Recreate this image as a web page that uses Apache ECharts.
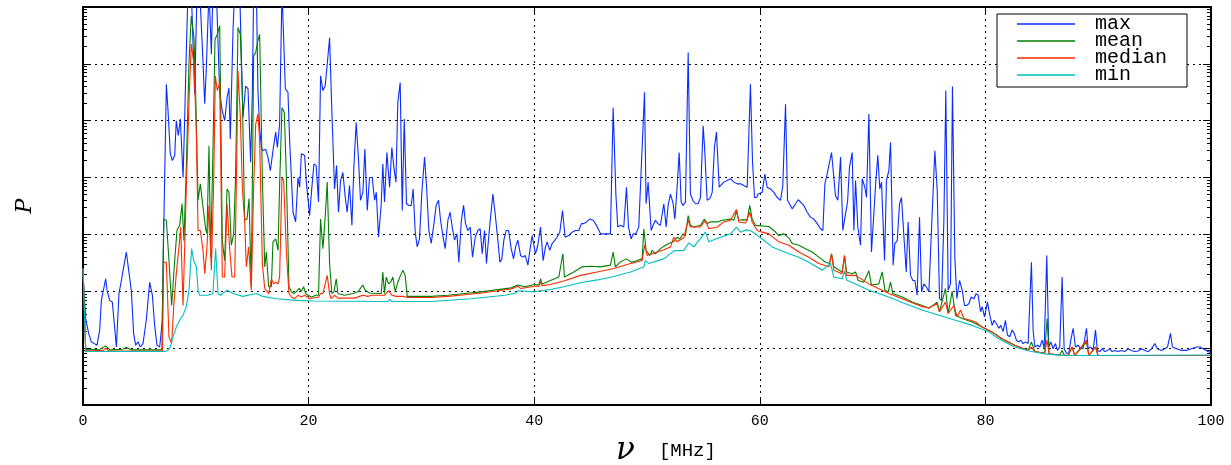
<!DOCTYPE html>
<html>
<head>
<meta charset="utf-8">
<script src="https://cdn.jsdelivr.net/npm/echarts@6/dist/echarts.min.js"></script>
<style>html,body{margin:0;padding:0;background:#fff}#c{width:1231px;height:465px}</style>
</head>
<body>
<div id="c"></div>
<script>
// [frequency MHz, log10(P)]
const maxPts = [[0,2.3],[0.24,1.52],[0.5,1.26],[0.74,1.11],[1.0,1.08],[1.24,1.05],[1.48,1.32],[1.63,1.84],[1.77,1.81],[2.01,2.22],[2.13,2.02],[2.36,1.84],[2.6,1.81],[2.81,1.35],[2.96,1.02],[3.19,1.96],[3.4,2.19],[3.61,2.43],[3.84,2.69],[3.99,2.66],[4.28,2.02],[4.49,1.26],[4.67,1.05],[4.88,1.11],[5.08,1.02],[5.32,1.08],[5.61,1.49],[5.91,2.16],[6.15,1.93],[6.35,1.4],[6.56,1.05],[6.8,1.02],[7.03,1.49],[7.15,3.0],[7.39,5.64],[7.54,5.17],[7.74,4.42],[7.92,4.3],[8.13,4.39],[8.27,5.0],[8.45,4.74],[8.63,5.03],[8.87,4.0],[9.01,5.0],[9.16,6.23],[9.31,7.3],[9.6,7.3],[9.9,5.47],[10.11,7.3],[10.34,7.3],[10.58,6.3],[10.79,5.3],[10.93,5.9],[11.17,7.3],[11.38,6.17],[11.52,7.3],[11.82,7.3],[12.12,5.47],[12.35,5.17],[12.56,5.0],[12.77,5.4],[12.94,5.58],[13.06,4.68],[13.3,6.6],[13.45,7.3],[13.89,7.3],[14.18,5.06],[14.42,5.61],[14.63,5.56],[14.86,4.27],[15.01,5.47],[15.13,7.3],[15.37,7.3],[15.51,5.53],[15.66,4.88],[15.81,4.53],[15.96,4.47],[16.19,4.5],[16.4,4.36],[16.61,4.12],[16.84,4.47],[17.08,4.8],[17.23,4.53],[17.43,4.94],[17.64,7.3],[17.79,7.3],[17.94,5.56],[18.17,5.5],[18.32,4.65],[18.62,3.39],[18.85,3.22],[19.06,4.0],[19.21,3.83],[19.36,4.42],[19.65,4.39],[19.8,3.92],[20.09,3.33],
[20.29,3.83],[20.47,4.24],[20.67,4.21],[20.88,3.57],[21.06,5.79],[21.27,5.53],[21.47,5.61],[21.65,5.99],[21.86,6.46],[22.06,5.18],[22.3,3.8],[22.48,4.21],[22.65,3.39],[22.83,3.94],[23.04,4.09],[23.25,3.65],[23.42,3.39],[23.63,3.86],[23.84,3.16],[24.01,4.18],[24.22,4.97],[24.43,4.3],[24.6,3.6],[24.81,3.74],[24.99,4.5],[25.2,3.42],[25.4,4.0],[25.64,4.0],[25.85,3.6],[26.0,3.74],[26.2,2.95],[26.44,3.54],[26.58,4.24],[26.73,3.57],[26.94,4.44],[27.18,3.83],[27.38,4.53],[27.56,4.18],[27.74,3.92],[27.91,5.32],[28.12,5.67],[28.3,3.42],[28.48,5.03],[28.68,3.54],[28.89,3.51],[29.1,3.51],[29.27,3.8],[29.45,3.04],[29.63,2.78],[29.83,2.92],[30.04,3.74],[30.28,4.36],[30.46,3.83],[30.66,3.07],[30.87,2.84],[31.11,3.19],[31.31,3.51],[31.52,3.6],[31.7,3.25],[31.9,2.98],[32.11,2.75],[32.35,3.25],[32.55,3.39],[32.73,3.13],[32.94,2.9],[33.15,3.01],[33.32,2.51],[33.53,3.22],[33.74,3.51],[33.91,3.19],[34.12,3.07],[34.33,3.13],[34.53,2.6],[34.77,2.95],[35.01,3.07],[35.21,3.1],[35.39,2.66],[35.6,3.07],[35.77,2.49],[35.95,2.92],[36.13,3.3],[36.34,3.71],[36.54,3.36],[36.78,2.9],[36.96,2.51],[37.13,2.57],[37.31,2.9],[37.52,3.07],[37.73,3.07],[37.96,2.75],[38.17,2.57],[38.35,2.78],[38.55,2.9],[38.79,2.63],[38.99,2.6],[39.2,2.63],[39.44,2.46],[39.64,2.75],[39.82,2.98],
[40.11,2.66],[40.32,2.81],[40.56,3.13],[40.79,2.54],[41.0,2.78],[41.15,2.87],[41.38,2.72],[41.59,2.84],[41.8,2.89],[42.03,2.95],[42.27,3.04],[42.51,3.42],[42.74,2.95],[43.07,2.98],[43.36,3.04],[43.66,3.07],[43.95,3.07],[44.19,3.19],[44.4,3.19],[44.63,3.22],[44.93,3.27],[45.23,3.25],[45.52,3.16],[45.88,3.01],[46.32,3.01],[46.76,3.01],[47.0,5.23],[47.24,3.71],[47.41,3.13],[47.65,3.16],[47.94,3.13],[48.18,3.83],[48.36,3.13],[48.59,2.92],[48.77,3.01],[49.01,3.01],[49.27,3.13],[49.48,4.12],[49.78,5.5],[49.92,3.54],[50.1,3.92],[50.37,3.07],[50.54,3.16],[50.75,3.25],[50.96,3.19],[51.19,3.16],[51.34,3.13],[51.49,3.54],[51.7,3.13],[51.87,3.51],[52.08,3.71],[52.32,3.54],[52.47,3.27],[52.67,3.83],[52.85,4.44],[53.03,3.57],[53.2,3.51],[53.41,3.57],[53.65,6.2],[53.85,3.71],[54.06,3.6],[54.3,3.54],[54.53,3.54],[54.74,3.65],[54.98,4.91],[55.12,4.47],[55.33,3.6],[55.57,3.63],[55.78,3.74],[55.98,4.53],[56.16,4.8],[56.4,3.83],[56.57,3.86],[56.81,3.92],[57.11,3.95],[57.4,3.98],[57.7,3.92],[57.99,3.89],[58.29,3.89],[58.58,3.86],[58.88,3.83],[58.97,3.8],[59.17,5.64],[59.35,4.3],[59.53,3.65],[59.71,3.65],
[59.86,3.71],[60.21,3.74],[60.45,4.06],[60.65,3.83],[60.95,3.8],[61.25,3.74],[61.54,3.65],[61.84,3.6],[62.04,3.86],[62.28,5.29],[62.46,3.6],[62.63,3.57],[62.87,3.45],[63.17,3.54],[63.4,3.61],[63.61,3.57],[63.9,3.51],[64.2,3.39],[64.5,3.3],[64.79,3.27],[65.09,3.19],[65.38,3.1],[65.59,3.07],[65.77,3.89],[65.97,4.06],[66.18,4.27],[66.36,4.44],[66.56,4.01],[66.71,3.68],[66.92,3.6],[67.16,4.36],[67.36,3.07],[67.6,3.36],[67.78,3.57],[67.95,4.18],[68.19,4.44],[68.34,3.07],[68.49,3.95],[68.69,3.13],[68.93,2.81],[69.08,3.98],[69.31,3.83],[69.46,3.65],[69.67,5.12],[69.9,2.69],[70.11,3.36],[70.26,3.86],[70.46,4.39],[70.64,3.8],[70.79,3.92],[71.06,2.54],[71.23,3.95],[71.44,4.12],[71.59,4.62],[71.82,2.46],[71.97,2.84],[72.18,2.89],[72.39,3.54],[72.56,3.65],[72.8,2.89],[72.98,2.34],[73.15,3.22],[73.36,2.28],[73.57,2.19],[73.75,2.19],[73.95,1.93],[74.16,3.3],[74.34,1.99],[74.54,2.13],[74.75,2.08],[74.99,1.99],[75.28,3.36],[75.52,4.47],[75.73,3.77],[75.93,1.87],[76.11,1.84],[76.32,3.25],[76.49,5.53],[76.7,2.02],[76.91,2.13],[77.08,5.6],[77.29,2.6],[77.47,1.87],[77.71,2.19],[77.94,2.02],[78.15,1.75],[78.33,1.75],[78.53,1.78],[78.74,1.9],[78.98,1.87],[79.18,1.96],[79.36,1.93],[79.57,1.64],[79.71,1.73],[79.92,1.55],
[80.18,1.81],[80.39,1.58],[80.6,1.4],[80.77,1.49],[80.98,1.43],[81.19,1.35],[81.36,1.4],[81.57,1.29],[81.78,1.49],[81.95,1.23],[82.16,1.2],[82.37,1.32],[82.55,1.26],[82.75,1.14],[82.96,1.11],[83.14,1.14],[83.34,1.08],[83.55,1.11],[83.79,1.08],[84.08,2.51],[84.23,1.32],[84.38,1.02],[84.61,1.05],[84.82,1.02],[85.03,1.14],[85.21,0.99],[85.44,2.63],[85.62,1.02],[85.8,1.11],[86.0,0.99],[86.21,1.08],[86.39,0.96],[86.59,1.02],[86.8,2.25],[86.98,0.99],[87.19,0.91],[87.39,0.91],[87.57,1.14],[87.78,1.35],[87.98,1.02],[88.22,1.05],[88.46,0.99],[88.66,0.99],[88.81,1.02],[88.96,1.35],[89.11,0.99],[89.34,1.02],[89.55,0.96],[89.76,1.32],[89.93,0.96],[90.14,0.94],[90.35,0.99],[90.58,0.94],[90.82,0.96],[91.03,0.99],[91.23,0.94],[91.47,0.96],[91.77,0.94],[92.06,0.96],[92.36,0.94],[92.65,0.99],[92.95,0.96],[93.24,0.94],[93.54,0.95],[93.83,0.99],[94.13,0.96],[94.43,0.94],[94.72,0.99],[95.02,1.08],[95.25,0.99],[95.61,0.96],[95.9,0.99],[96.14,1.02],[96.41,1.26],[96.58,1.02],[96.94,0.99],[97.38,0.96],[97.82,0.96],[98.27,0.99],[98.71,1.02],[99.01,1.02],[99.3,0.99],[99.74,0.94],[100,0.92]];

const meanPts = [[0,2.4],[0.24,0.97],[1.5,0.98],[2.0,1.04],[2.4,0.97],[3.5,0.98],[3.84,1.01],[4.3,0.97],[7.0,0.97],[7.15,3.27],[7.39,3.25],[7.62,2.54],[7.86,1.75],[8.13,2.54],[8.33,3.07],[8.57,3.16],[8.78,3.54],[8.95,2.89],[9.16,4.18],[9.4,6.05],[9.6,6.84],[9.84,6.46],[9.99,5.47],[10.2,3.6],[10.4,3.89],[10.64,3.48],[10.87,3.1],[10.99,3.01],[11.17,4.56],[11.32,2.6],[11.52,4.47],[11.7,6.43],[11.91,6.52],[12.12,6.67],[12.35,2.89],[12.56,2.54],[12.77,3.8],[12.94,3.74],[13.15,2.81],[13.36,3.01],[13.53,4.06],[13.74,6.64],[13.95,6.52],[14.13,5.41],[14.33,3.25],[14.54,3.27],[14.72,3.63],[14.92,2.08],[15.13,6.14],[15.31,6.2],[15.46,6.37],[15.66,6.52],[15.9,4.0],[16.11,2.43],[16.25,2.69],[16.46,2.08],[16.7,2.08],[16.84,2.87],[17.08,2.92],[17.29,2.72],[17.43,3.86],[17.64,5.23],[17.85,5.15],[18.03,4.0],[18.26,2.08],[18.47,1.99],[18.68,1.96],[18.91,1.99],[19.15,2.05],[19.36,2.0],[19.56,2.08],[19.74,1.96],[19.95,1.93],[20.23,1.9],[20.67,1.93],[20.88,1.93],[21.06,3.27],[21.27,2.75],[21.47,3.3],[21.65,3.92],[21.86,2.49],[22.06,1.96],[22.24,1.99],[22.45,2.22],[22.6,1.96],[23.19,1.93],[23.93,1.96],[24.37,1.99],[24.81,2.11],[25.02,2.02],[25.4,1.97],[26.14,1.96],[26.44,1.96],[26.58,2.34],[26.73,1.96],[26.88,2.25],[27.09,2.13],[27.27,2.16],[27.47,2.25],[27.68,1.99],[27.91,2.16],[28.15,2.28],[28.36,2.37],[28.56,2.28],[28.74,1.91],[30.87,1.91],[32.35,1.93],[33.82,1.96],[35.3,1.99],[36.78,2.03],[37.96,2.06],[38.55,2.11],[38.7,2.09],[39.14,2.08],[40.03,2.12],[40.41,2.11],[40.56,2.22],[40.7,2.13],[41.44,2.19],[42.18,2.25],[42.54,2.66],[42.68,2.25],[43.51,2.34],[44.25,2.43],[44.99,2.44],[45.88,2.43],[46.76,2.46],[47.0,2.69],[47.2,2.43],[47.59,2.51],[48.18,2.57],[48.63,2.51],[49.13,2.54],[49.57,2.57],[49.72,3.1],[49.92,2.72],[50.25,2.63],[50.46,2.72],[50.75,2.66],[51.19,2.75],[51.64,2.81],[51.93,2.84],[52.32,2.87],[52.67,2.95],[52.91,2.92],[53.2,3.01],[53.41,2.98],[53.65,3.33],[53.85,3.16],[54.15,3.13],[54.74,3.16],[55.09,3.27],[55.27,3.19],[55.63,3.22],[56.22,3.22],[56.66,3.25],[57.11,3.26],[57.4,3.27],[57.7,3.25],[57.93,3.41],[58.14,3.25],[58.58,3.26],[58.88,3.25],[59.11,3.51],[59.32,3.27],[59.62,3.16],[60.8,3.14],[61.25,3.07],[61.69,2.98],[62.13,3.01],[62.58,2.94],[62.87,2.84],[63.46,2.81],[64.05,2.75],[64.64,2.69],[65.23,2.6],[65.83,2.51],[66.18,2.49],[66.36,2.66],[66.56,2.43],[67.3,2.34],[67.51,2.63],[67.69,2.34],[68.19,2.31],[68.49,2.34],[68.72,2.19],[69.22,2.16],[69.67,2.36],[69.9,2.11],[70.55,2.13],[70.85,2.34],[71.09,2.02],[71.38,1.99],[71.59,2.16],[71.79,1.96],[72.62,1.9],[73.51,1.81],[74.4,1.75],[74.99,1.7],[75.72,1.81],[75.93,1.64],[76.46,2.05],[76.7,1.61],[77.05,2.0],[77.35,1.58],[77.94,1.52],[78.83,1.46],[79.71,1.37],[80.54,1.29],[81.42,1.17],[82.6,1.05],[83.79,0.96],[84.08,1.11],[84.38,0.94],[85.26,0.91],[85.47,1.52],[85.65,0.9],[86.59,0.88],[86.8,0.96],[87.0,0.88],[87.33,0.87],[87.69,1.02],[87.92,0.87],[88.96,1.11],[89.17,0.87],[89.76,1.02],[89.99,0.87],[100,0.87]];

const medianPts = [[0,2.4],[0.24,0.95],[1.8,0.96],[2.0,1.0],[2.3,0.95],[7.05,0.95],[7.15,2.51],[7.39,2.51],[7.62,1.2],[7.86,1.08],[8.04,1.73],[8.27,2.31],[8.51,2.78],[8.66,3.13],[8.87,1.75],[9.16,3.83],[9.4,5.35],[9.6,6.35],[9.84,5.99],[10.05,4.77],[10.2,3.07],[10.4,3.07],[10.64,2.72],[10.79,2.31],[10.99,2.78],[11.17,3.51],[11.38,2.37],[11.58,3.86],[11.73,5.79],[11.91,5.53],[12.12,5.67],[12.35,2.25],[12.56,2.25],[12.77,3.54],[13.0,2.75],[13.21,2.25],[13.45,2.25],[13.59,3.83],[13.74,5.88],[13.95,5.06],[14.13,3.8],[14.33,3.25],[14.48,2.43],[14.69,2.78],[14.92,2.02],[15.13,3.83],[15.31,4.94],[15.51,5.12],[15.66,4.65],[15.9,2.49],[16.11,2.05],[16.25,2.08],[16.46,1.96],[16.7,2.22],[16.9,2.13],[17.08,2.16],[17.29,2.13],[17.43,2.25],[17.64,4.0],[17.79,3.95],[18.03,2.69],[18.26,1.96],[18.47,1.9],[18.76,1.87],[19.06,1.93],[19.36,1.9],[19.65,1.93],[20.09,1.87],[20.88,1.9],[21.06,1.96],[21.27,1.96],[21.47,2.13],[21.65,2.28],[21.86,1.96],[22.0,1.87],[22.3,1.93],[22.6,1.88],[24.07,1.88],[24.81,1.93],[25.26,1.91],[25.55,1.93],[26.73,1.93],[27.09,2.01],[27.38,1.93],[27.77,1.91],[28.5,1.91],[28.74,1.89],[30.87,1.89],[32.35,1.91],[33.82,1.94],[35.3,1.97],[36.78,2.01],[37.96,2.04],[38.55,2.09],[38.79,2.05],[40.03,2.09],[40.41,2.09],[40.56,2.16],[40.7,2.1],[41.44,2.12],[42.62,2.18],[44.1,2.28],[45.58,2.34],[47.06,2.4],[48.54,2.49],[49.57,2.54],[49.78,2.81],[50.01,2.63],[51.49,2.73],[52.08,2.78],[52.38,2.95],[52.67,2.87],[53.26,2.94],[53.65,3.25],[53.85,3.13],[54.74,3.13],[55.18,3.25],[55.48,3.1],[56.22,3.13],[56.81,3.22],[57.4,3.25],[57.93,3.44],[58.14,3.22],[58.73,3.2],[59.11,3.39],[59.32,3.22],[59.77,3.07],[60.21,3.04],[60.8,3.01],[61.69,2.87],[62.58,2.81],[63.46,2.69],[64.35,2.6],[65.23,2.49],[66.12,2.43],[66.36,2.66],[66.56,2.37],[67.3,2.31],[67.51,2.63],[67.69,2.28],[68.49,2.28],[69.67,2.13],[71.44,1.96],[72.62,1.87],[73.51,1.8],[74.4,1.73],[74.99,1.71],[75.72,1.78],[75.93,1.64],[76.46,1.81],[76.7,1.61],[77.2,1.75],[77.5,1.55],[77.79,1.67],[78.09,1.52],[78.68,1.49],[79.14,1.46],[79.71,1.37],[80.54,1.29],[81.42,1.17],[82.6,1.05],[83.79,0.96],[84.08,1.02],[84.38,0.94],[85.26,0.91],[85.47,1.14],[85.65,0.9],[86.59,0.88],[87.33,0.87],[87.69,1.02],[87.92,0.87],[88.96,1.14],[89.17,0.87],[89.76,1.02],[89.99,0.87],[100,0.87]];

const minPts = [[0,2.4],[0.24,0.94],[7.3,0.94],[7.5,0.96],[7.74,1.02],[7.98,1.2],[8.27,1.37],[8.57,1.49],[8.87,1.58],[9.16,1.73],[9.4,2.02],[9.52,2.43],[9.63,2.75],[9.81,2.54],[10.05,2.43],[10.2,2.02],[10.34,1.93],[11.08,1.93],[11.52,1.96],[11.76,2.75],[11.97,1.96],[12.17,1.93],[12.77,2.02],[13.3,1.96],[14.18,1.91],[15.37,1.96],[15.96,1.91],[17.14,1.87],[18.91,1.84],[20.39,1.83],[27.0,1.82],[27.18,1.86],[27.38,1.82],[30.9,1.82],[34.4,1.87],[37.4,1.93],[38.4,1.97],[38.55,2.01],[38.7,1.98],[40.0,1.99],[40.56,2.01],[41.44,2.03],[42.62,2.08],[44.1,2.15],[45.6,2.2],[47.06,2.26],[48.54,2.34],[49.72,2.43],[49.86,2.54],[50.16,2.49],[51.49,2.57],[52.38,2.71],[53.26,2.72],[53.7,2.85],[54.15,2.78],[55.18,3.04],[55.48,2.87],[56.5,2.95],[57.4,3.01],[57.93,3.13],[58.29,3.04],[58.73,3.08],[59.17,3.07],[59.62,3.01],[60.21,2.92],[61.1,2.78],[61.69,2.73],[62.58,2.66],[63.46,2.6],[64.35,2.51],[65.53,2.37],[66.27,2.49],[66.56,2.25],[67.3,2.22],[67.51,2.36],[67.69,2.2],[68.49,2.13],[69.67,2.02],[71.44,1.9],[72.92,1.78],[74.4,1.67],[75.87,1.58],[77.35,1.49],[78.83,1.4],[80.3,1.29],[81.13,1.17],[82.6,1.02],[84.08,0.94],[85.56,0.89],[87.33,0.87],[100,0.88]];

const seriesNames = ['max', 'mean', 'median', 'min'];
const seriesPts = [maxPts, meanPts, medianPts, minPts];
const seriesColors = ['#0a2cff', '#008000', '#ff2a00', '#00bfbf'];
const xTicks = [0, 20, 40, 60, 80, 100];

const chart = echarts.init(document.getElementById('c'), null, {renderer: 'canvas'});
const dotted = {color: '#000', width: 1, type: [2, 4]};
const frame = {show: true, onZero: false, lineStyle: {color: '#000', width: 2}};
const yBase = {
  type: 'log', logBase: 10, min: 1, max: 1e7, splitNumber: 7,
  axisLine: frame,
  axisTick: {show: true, inside: true, length: 8, lineStyle: {color: '#000', width: 1}},
  minorTick: {show: true, splitNumber: 9, length: 4, lineStyle: {color: '#000', width: 1}},
  axisLabel: {show: false}
};
chart.setOption({
  animation: false,
  backgroundColor: '#fff',
  grid: {left: 83, right: 20, top: 7, bottom: 60, containLabel: false, outerBoundsMode: 'none'},
  legend: {
    orient: 'vertical', left: 997, top: 14,
    data: seriesNames,
    icon: 'rect',
    backgroundColor: '#fff', borderColor: '#000', borderWidth: 1, borderRadius: 0,
    padding: [0, 20, 2, 20], itemGap: -3, itemWidth: 58, itemHeight: 1.3,
    textStyle: {fontFamily: 'Liberation Mono', fontSize: 20, color: '#000', padding: [0, 0, 0, 15]}
  },
  xAxis: [{
    type: 'value', min: 0, max: 100, interval: 20, position: 'bottom',
    axisLine: frame,
    axisTick: {show: true, inside: true, length: 6, lineStyle: {color: '#000'}},
    axisLabel: {fontFamily: 'Liberation Mono', fontSize: 15, color: '#000', margin: 9,
      formatter: v => xTicks.includes(v) ? String(v) : ''},
    splitLine: {show: true, lineStyle: dotted},
    name: '{nu|ν}{u|[MHz]}', nameLocation: 'middle', nameGap: 30,
    nameTextStyle: {rich: {
      nu: {fontFamily: 'DejaVu Serif', fontStyle: 'italic', fontSize: 31, color: '#000', padding: [0, 24, 0, 38]},
      u: {fontFamily: 'Liberation Mono', fontSize: 19, color: '#000'}
    }}
  }, {
    type: 'value', min: 0, max: 100, interval: 20, position: 'top',
    axisLine: frame,
    axisTick: {show: true, inside: true, length: 6, lineStyle: {color: '#000'}},
    axisLabel: {show: false}, splitLine: {show: false}
  }],
  yAxis: [Object.assign({}, yBase, {
    position: 'left',
    splitLine: {show: true, lineStyle: dotted},
    name: 'P', nameLocation: 'middle', nameGap: 47,
    nameTextStyle: {fontFamily: 'DejaVu Serif', fontStyle: 'italic', fontSize: 22, color: '#000'}
  }), Object.assign({}, yBase, {
    position: 'right', splitLine: {show: false}
  })],
  series: seriesNames.map((name, i) => ({
    name: name, type: 'line', xAxisIndex: 0, yAxisIndex: 0,
    symbol: 'none', clip: true,
    data: seriesPts[i].map(p => [p[0], Math.pow(10, p[1])]),
    lineStyle: {color: seriesColors[i], width: 1.1},
    itemStyle: {color: seriesColors[i]},
    z: 2 + i
  }))
});
</script>
</body>
</html>
